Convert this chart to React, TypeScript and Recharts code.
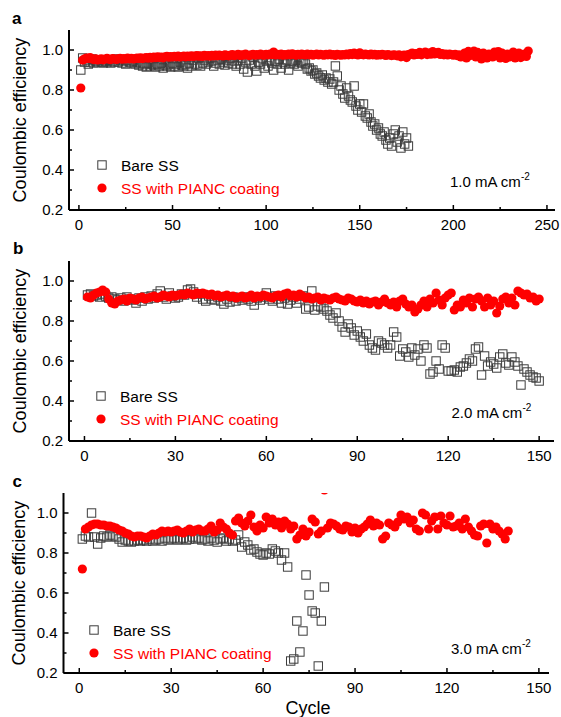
import React from 'react';
import { ScatterChart, Scatter, XAxis, YAxis, Legend } from 'recharts';

const FONT = '"Liberation Sans", Arial, Helvetica, sans-serif';

// ---------- Panel a (1.0 mA cm-2) ----------
const aBare = [
  0.90, 0.96, 0.94, 0.95, 0.93, 0.94, 0.955, 0.935, 0.945, 0.94,
  0.95, 0.94, 0.935, 0.945, 0.94, 0.95, 0.935, 0.945, 0.94, 0.955,
  0.94, 0.95, 0.935, 0.945, 0.93, 0.95, 0.94, 0.935, 0.945, 0.93,
  0.94, 0.925, 0.935, 0.92, 0.93, 0.915, 0.935, 0.92, 0.93, 0.925,
  0.915, 0.93, 0.92, 0.935, 0.91, 0.925, 0.92, 0.93, 0.915, 0.935,
  0.92, 0.93, 0.915, 0.94, 0.925, 0.92, 0.93, 0.91, 0.935, 0.92,
  0.95, 0.93, 0.925, 0.96, 0.92, 0.935, 0.95, 0.93, 0.94, 0.96,
  0.945, 0.92, 0.935, 0.95, 0.93, 0.955, 0.94, 0.925, 0.95, 0.935,
  0.96, 0.93, 0.945, 0.92, 0.95, 0.93, 0.96, 0.905, 0.94, 0.89,
  0.95, 0.93, 0.965, 0.92, 0.895, 0.94, 0.93, 0.96, 0.91, 0.945,
  0.92, 0.95, 0.935, 0.90, 0.945, 0.93, 0.955, 0.91, 0.94, 0.93,
  0.95, 0.90, 0.935, 0.945, 0.93, 0.95, 0.92, 0.94, 0.935, 0.945,
  0.93, 0.905, 0.91, 0.895, 0.90, 0.88, 0.885, 0.87, 0.86, 0.875,
  0.85, 0.86, 0.84, 0.855, 0.83, 0.84, 0.92, 0.87, 0.80, 0.82,
  0.78, 0.76, 0.81, 0.77, 0.75, 0.74, 0.82, 0.72, 0.70, 0.73,
  0.69, 0.73, 0.67, 0.66, 0.68, 0.64, 0.62, 0.63, 0.60, 0.61,
  0.58, 0.57, 0.59, 0.55, 0.53, 0.56, 0.52, 0.58, 0.60, 0.54,
  0.57, 0.51, 0.59, 0.53, 0.56, 0.52,
];
const aCoated = [
  0.81, 0.95, 0.955, 0.96, 0.958, 0.962, 0.955, 0.952, 0.956, 0.95,
  0.953, 0.956, 0.951, 0.955, 0.958, 0.954, 0.952, 0.957, 0.955, 0.953,
  0.956, 0.958, 0.954, 0.957, 0.955, 0.959, 0.956, 0.958, 0.955, 0.957,
  0.96, 0.958, 0.961, 0.957, 0.96, 0.962, 0.959, 0.963, 0.96, 0.964,
  0.962, 0.966, 0.963, 0.965, 0.961, 0.966, 0.968, 0.964, 0.967, 0.965,
  0.968, 0.966, 0.969, 0.965, 0.967, 0.97, 0.966, 0.969, 0.967, 0.971,
  0.968, 0.97, 0.972, 0.969, 0.971, 0.968, 0.973, 0.97, 0.972, 0.969,
  0.973, 0.97, 0.974, 0.971, 0.975, 0.972, 0.97, 0.976, 0.973, 0.971,
  0.974, 0.977, 0.972, 0.975, 0.978, 0.973, 0.976, 0.974, 0.979, 0.975,
  0.972, 0.976, 0.978, 0.974, 0.977, 0.975, 0.979, 0.976, 0.974, 0.978,
  0.976, 0.98, 0.977, 0.99, 0.975, 0.978, 0.976, 0.979, 0.974, 0.977,
  0.975, 0.979, 0.976, 0.981, 0.977, 0.974, 0.978, 0.976, 0.98, 0.977,
  0.975, 0.979, 0.976, 0.978, 0.974, 0.977, 0.979, 0.975, 0.978, 0.976,
  0.974, 0.978, 0.976, 0.979, 0.975, 0.977, 0.973, 0.978, 0.976, 0.974,
  0.977, 0.975, 0.979, 0.976, 0.982, 0.977, 0.985, 0.978, 0.975, 0.986,
  0.978, 0.976, 0.98, 0.977, 0.975, 0.979, 0.976, 0.978, 0.974, 0.977,
  0.975, 0.978, 0.976, 0.973, 0.977, 0.975, 0.972, 0.976, 0.974, 0.971,
  0.976, 0.966, 0.973, 0.975, 0.962, 0.977, 0.98, 0.985, 0.975, 0.982,
  0.978, 0.988, 0.976, 0.983, 0.99, 0.977, 0.985, 0.979, 0.992, 0.98,
  0.984, 0.988, 0.978, 0.982, 0.976, 0.98, 0.975, 0.979, 0.977, 0.974,
  0.978, 0.972, 0.976, 0.965, 0.97, 0.985, 0.96, 0.993, 0.972, 0.98,
  0.995, 0.965, 0.988, 0.97, 0.955, 0.985, 0.975, 0.96, 0.98, 0.97,
  0.965, 0.99, 0.975, 0.992, 0.96, 0.985, 0.97, 0.958, 0.98, 0.965,
  0.978, 0.99, 0.96, 0.972, 0.985, 0.962, 0.975, 0.98, 0.968, 0.995,
];

// ---------- Panel b (2.0 mA cm-2) ----------
const bBare = [
  0.93, 0.935, 0.925, 0.93, 0.92, 0.935, 0.925, 0.915, 0.92, 0.91,
  0.905, 0.915, 0.90, 0.92, 0.91, 0.905, 0.89, 0.915, 0.90, 0.92,
  0.91, 0.925, 0.915, 0.935, 0.95, 0.92, 0.91, 0.94, 0.925, 0.915,
  0.92, 0.935, 0.93, 0.955, 0.96, 0.945, 0.92, 0.935, 0.91, 0.90,
  0.925, 0.91, 0.905, 0.92, 0.90, 0.885, 0.91, 0.895, 0.92, 0.90,
  0.915, 0.905, 0.92, 0.91, 0.90, 0.88, 0.915, 0.905, 0.92, 0.94,
  0.91, 0.90, 0.925, 0.91, 0.89, 0.915, 0.885, 0.905, 0.92, 0.89,
  0.91, 0.925, 0.86, 0.87, 0.95, 0.855, 0.875, 0.87, 0.86, 0.85,
  0.83, 0.815, 0.84, 0.80, 0.77, 0.745, 0.785, 0.765, 0.73, 0.75,
  0.72, 0.70, 0.735, 0.68, 0.665, 0.655, 0.70, 0.69, 0.68, 0.665,
  0.68, 0.745, 0.72, 0.625, 0.66, 0.645, 0.62, 0.665, 0.63, 0.66,
  0.60, 0.68, 0.665, 0.535, 0.545, 0.60, 0.56, 0.68, 0.665, 0.55,
  0.55, 0.555, 0.545, 0.57, 0.575, 0.59, 0.61, 0.60, 0.66, 0.67,
  0.53, 0.625, 0.575, 0.595, 0.585, 0.565, 0.62, 0.635, 0.59, 0.58,
  0.62, 0.595, 0.575, 0.48, 0.56, 0.545, 0.53, 0.52, 0.515, 0.50,
];
const bCoated = [
  0.92, 0.915, 0.93, 0.94, 0.945, 0.955, 0.945, 0.91, 0.89, 0.885,
  0.90, 0.905, 0.91, 0.90, 0.915, 0.91, 0.905, 0.915, 0.92, 0.91,
  0.915, 0.92, 0.925, 0.915, 0.92, 0.93, 0.925, 0.92, 0.93, 0.925,
  0.93, 0.935, 0.93, 0.94, 0.935, 0.93, 0.94, 0.935, 0.94, 0.935,
  0.93, 0.935, 0.925, 0.93, 0.92, 0.925, 0.93, 0.92, 0.925, 0.915,
  0.92, 0.925, 0.915, 0.92, 0.93, 0.915, 0.925, 0.92, 0.93, 0.925,
  0.92, 0.915, 0.925, 0.93, 0.92, 0.935, 0.94, 0.925, 0.93, 0.92,
  0.935, 0.925, 0.915, 0.92, 0.91, 0.915, 0.92, 0.905, 0.915, 0.91,
  0.905, 0.915, 0.92, 0.91, 0.905, 0.90, 0.915, 0.91, 0.90, 0.895,
  0.905, 0.89, 0.90, 0.885, 0.895, 0.90, 0.88, 0.895, 0.91, 0.89,
  0.88, 0.895, 0.87, 0.90, 0.91, 0.885, 0.87, 0.88, 0.845, 0.86,
  0.88, 0.90, 0.87, 0.91, 0.89, 0.94, 0.905, 0.88, 0.915, 0.93,
  0.94, 0.855, 0.88, 0.87, 0.905, 0.89, 0.915, 0.87, 0.91, 0.92,
  0.90, 0.87, 0.915, 0.88, 0.90, 0.84, 0.875, 0.91, 0.92, 0.89,
  0.915, 0.88, 0.95, 0.94, 0.93, 0.935, 0.915, 0.92, 0.90, 0.91,
];

// ---------- Panel c (3.0 mA cm-2) ----------
const cBare = [
  0.87, 0.885, 0.88, 1.0, 0.88, 0.845, 0.875, 0.885, 0.88, 0.89,
  0.885, 0.88, 0.87, 0.855, 0.865, 0.86, 0.855, 0.86, 0.865, 0.86,
  0.865, 0.86, 0.87, 0.86, 0.865, 0.87, 0.86, 0.875, 0.865, 0.87,
  0.875, 0.865, 0.87, 0.875, 0.865, 0.87, 0.88, 0.87, 0.875, 0.865,
  0.87, 0.86, 0.875, 0.865, 0.855, 0.87, 0.875, 0.86, 0.87, 0.86,
  0.865, 0.89, 0.83, 0.855, 0.84, 0.815, 0.82, 0.805, 0.795, 0.79,
  0.80, 0.795, 0.82, 0.81, 0.80, 0.765, 0.80, 0.73, 0.26, 0.27,
  0.46, 0.305, 0.41, 0.69, 0.59, 0.51, 0.50, 0.235, 0.46, 0.63,
];
const cCoated = [
  0.72, 0.92, 0.93, 0.94, 0.945, 0.945, 0.94, 0.94, 0.935, 0.935,
  0.93, 0.925, 0.915, 0.91, 0.90, 0.895, 0.885, 0.88, 0.885, 0.885,
  0.88, 0.875, 0.885, 0.895, 0.89, 0.90, 0.91, 0.905, 0.91, 0.905,
  0.91, 0.915, 0.905, 0.90, 0.91, 0.92, 0.905, 0.915, 0.92, 0.91,
  0.91, 0.92, 0.935, 0.905, 0.915, 0.95, 0.93, 0.92, 0.90, 0.89,
  0.96, 0.975, 0.95, 0.935, 0.96, 0.99, 0.93, 0.91, 0.94, 0.925,
  0.98, 0.95, 0.97, 0.94, 0.955, 0.925, 0.96, 0.945, 0.92, 0.935,
  0.87, 0.89, 0.92, 0.885, 0.905, 0.97, 0.955, 0.895, 0.91, 1.115,
  0.925, 0.95, 0.945, 0.935, 0.92, 0.915, 0.935, 0.93, 0.905, 0.925,
  0.90, 0.92, 0.93, 0.945, 0.965, 0.935, 0.95, 0.94, 0.87, 0.885,
  0.95, 0.94, 0.93, 0.955, 0.99, 0.97, 0.98, 0.95, 0.965, 0.92,
  0.91, 1.0, 0.99, 0.92, 0.96, 0.98, 0.92, 0.985, 0.95, 0.94,
  0.985, 0.93, 0.935, 0.95, 0.92, 0.97, 0.93, 0.91, 0.89, 0.885,
  0.935, 0.945, 0.85, 0.945, 0.92, 0.93, 0.91, 0.895, 0.87, 0.91,
];

const yTicks = [0.2, 0.3, 0.4, 0.5, 0.6, 0.7, 0.8, 0.9, 1.0];
const xTicksA = [0, 25, 50, 75, 100, 125, 150, 175, 200, 225, 250];
const xTicksBC = [0, 15, 30, 45, 60, 75, 90, 105, 120, 135, 150];
const seriesNames = ['Bare SS', 'SS with PIANC coating'];
const yTitle = 'Coulombic efficiency';
const xTitle = 'Cycle';

const toPoints = (vals: number[]) => vals.map((v, i) => ({ cycle: i + 1, ce: v }));

const RED = '#ff0000';
const Y_AXIS_W = 60;
const PLOT_H = 180;

const makeSquare = (clip: string) => (p: any) => (
  <rect
    x={p.cx - 4.2} y={p.cy - 4.2} width={8.4} height={8.4} fill="none"
    stroke="#3c3c3c" strokeWidth={1} clipPath={`url(#${clip})`}
  />
);
const makeDot = (clip: string) => (p: any) => (
  <circle cx={p.cx} cy={p.cy} r={4.6} fill={RED} clipPath={`url(#${clip})`} />
);

const YTick = (p: any) => {
  const v = p.payload.value;
  const major = Math.round(v * 10) % 2 === 0;
  return (
    <g>
      <line x1={p.x} x2={p.x + (major ? 5 : 3)} y1={p.y} y2={p.y} stroke="#000" strokeWidth={1.5} />
      {major && (
        <text x={p.x - 6} y={p.y + 5.3} textAnchor="end" fontSize={15} fontFamily={FONT} fill="#000">
          {v.toFixed(1)}
        </text>
      )}
    </g>
  );
};

const makeXTick = (step: number) => (p: any) => {
  const v = p.payload.value;
  const major = v % step === 0;
  return (
    <g>
      <line x1={p.x} x2={p.x} y1={p.y} y2={p.y - (major ? 5 : 3)} stroke="#000" strokeWidth={1.5} />
      {major && (
        <text x={p.x} y={p.y + 20} textAnchor="middle" fontSize={15} fontFamily={FONT} fill="#000">
          {v}
        </text>
      )}
    </g>
  );
};

type PanelCfg = {
  letter: string;
  top: number;
  height: number;
  margin: { top: number; right: number; bottom: number; left: number };
  xAxisH: number;
  xDomain: [number, number];
  xTicks: number[];
  step: number;
  bare: number[];
  coated: number[];
  current: string;
  curX: number;
  curY: number;
  titleX: number;
  titleY: number;
  letterX: number;
  letterY: number;
  legLeft: number;
  legTop: number;
  showCycle: boolean;
};

const panels: PanelCfg[] = [
  {
    letter: 'a', top: 0, height: 235,
    margin: { top: 30, right: 6, bottom: 0, left: 9 }, xAxisH: 25,
    xDomain: [-5.3, 254.3], xTicks: xTicksA, step: 50,
    bare: aBare, coated: aCoated, current: '1.0',
    curX: 450, curY: 187, titleX: 26, titleY: 120, letterX: 12, letterY: 23.5,
    legLeft: 90, legTop: 152, showCycle: false,
  },
  {
    letter: 'b', top: 230, height: 235,
    margin: { top: 31, right: 7, bottom: 0, left: 9 }, xAxisH: 24,
    xDomain: [-5.1, 154.9], xTicks: xTicksBC, step: 30,
    bare: bBare, coated: bCoated, current: '2.0',
    curX: 451.5, curY: 188, titleX: 26, titleY: 121, letterX: 13, letterY: 24,
    legLeft: 89, legTop: 153, showCycle: false,
  },
  {
    letter: 'c', top: 460, height: 260,
    margin: { top: 33, right: 12, bottom: 23, left: 3.5 }, xAxisH: 24,
    xDomain: [-5.15, 153.3], xTicks: xTicksBC, step: 30,
    bare: cBare, coated: cCoated, current: '3.0',
    curX: 451, curY: 193.5, titleX: 24.5, titleY: 123, letterX: 12.5, letterY: 27,
    legLeft: 82, legTop: 157, showCycle: true,
  },
];

const axisLine = { stroke: '#000', strokeWidth: 2 };

const LegendBox = () => (
  <svg width={240} height={50} style={{ display: 'block' }}>
    <rect x={7.8} y={8.8} width={8.4} height={8.4} fill="none" stroke="#3c3c3c" strokeWidth={1} />
    <text x={31} y={19} fontSize={15.5} fontFamily={FONT} fill="#000">{seriesNames[0]}</text>
    <circle cx={12} cy={36} r={4.6} fill={RED} />
    <text x={31} y={41.5} fontSize={15.5} fontFamily={FONT} fill={RED}>{seriesNames[1]}</text>
  </svg>
);

function Panel({ cfg }: { cfg: PanelCfg }) {
  const clipId = `plot-clip-${cfg.letter}`;
  const plotLeft = cfg.margin.left + Y_AXIS_W;
  const plotW = 561 - cfg.margin.right - plotLeft;
  return (
    <div style={{ position: 'absolute', left: 0, top: cfg.top, width: 561, height: cfg.height }}>
      <ScatterChart width={561} height={cfg.height} margin={cfg.margin}>
        <defs>
          <clipPath id={clipId}>
            <rect x={plotLeft} y={cfg.margin.top} width={plotW} height={PLOT_H} />
          </clipPath>
        </defs>
        <XAxis
          xAxisId="b" type="number" dataKey="cycle" domain={cfg.xDomain} ticks={cfg.xTicks}
          interval={0} allowDataOverflow height={cfg.xAxisH} tickSize={0} tickMargin={0}
          tickLine={false} axisLine={axisLine} tick={makeXTick(cfg.step)}
        />
        <XAxis
          xAxisId="t" orientation="top" type="number" domain={cfg.xDomain} allowDataOverflow
          height={0} tick={false} tickLine={false} axisLine={axisLine}
        />
        <YAxis
          yAxisId="l" type="number" dataKey="ce" domain={[0.2, 1.1]} ticks={yTicks} interval={0}
          allowDataOverflow width={Y_AXIS_W} tickSize={0} tickMargin={0} tickLine={false}
          axisLine={axisLine} tick={YTick}
        />
        <YAxis
          yAxisId="r" orientation="right" type="number" domain={[0.2, 1.1]} allowDataOverflow
          width={0} tick={false} tickLine={false} axisLine={axisLine}
        />
        <Scatter
          name={seriesNames[0]} xAxisId="b" yAxisId="l" data={toPoints(cfg.bare)}
          shape={makeSquare(clipId)} isAnimationActive={false}
        />
        <Scatter
          name={seriesNames[1]} xAxisId="b" yAxisId="l" data={toPoints(cfg.coated)}
          shape={makeDot(clipId)} isAnimationActive={false}
        />
        <text x={cfg.letterX} y={cfg.letterY} fontSize={17} fontWeight="bold" fontFamily={FONT} fill="#000">
          {cfg.letter}
        </text>
        <text
          x={cfg.titleX} y={cfg.titleY} fontSize={18} fontFamily={FONT} fill="#000" textAnchor="middle"
          transform={`rotate(-90 ${cfg.titleX} ${cfg.titleY})`}
        >
          {yTitle}
        </text>
        <text x={cfg.curX} y={cfg.curY} fontSize={15} fontFamily={FONT} fill="#000">
          {cfg.current} mA cm
          <tspan dy={-7} fontSize={10}>-2</tspan>
        </text>
        {cfg.showCycle && (
          <text x={308} y={254} fontSize={18} fontFamily={FONT} fill="#000" textAnchor="middle">
            {xTitle}
          </text>
        )}
        <Legend
          layout="vertical" align="center" verticalAlign="middle"
          wrapperStyle={{ left: cfg.legLeft, top: cfg.legTop, width: 240, height: 50 }}
          content={() => <LegendBox />}
        />
      </ScatterChart>
    </div>
  );
}

export default function App() {
  return (
    <div style={{ position: 'absolute', left: 0, top: 0, width: 561, height: 717, background: '#fff', overflow: 'hidden' }}>
      {panels.map((p) => (
        <Panel key={p.letter} cfg={p} />
      ))}
    </div>
  );
}
